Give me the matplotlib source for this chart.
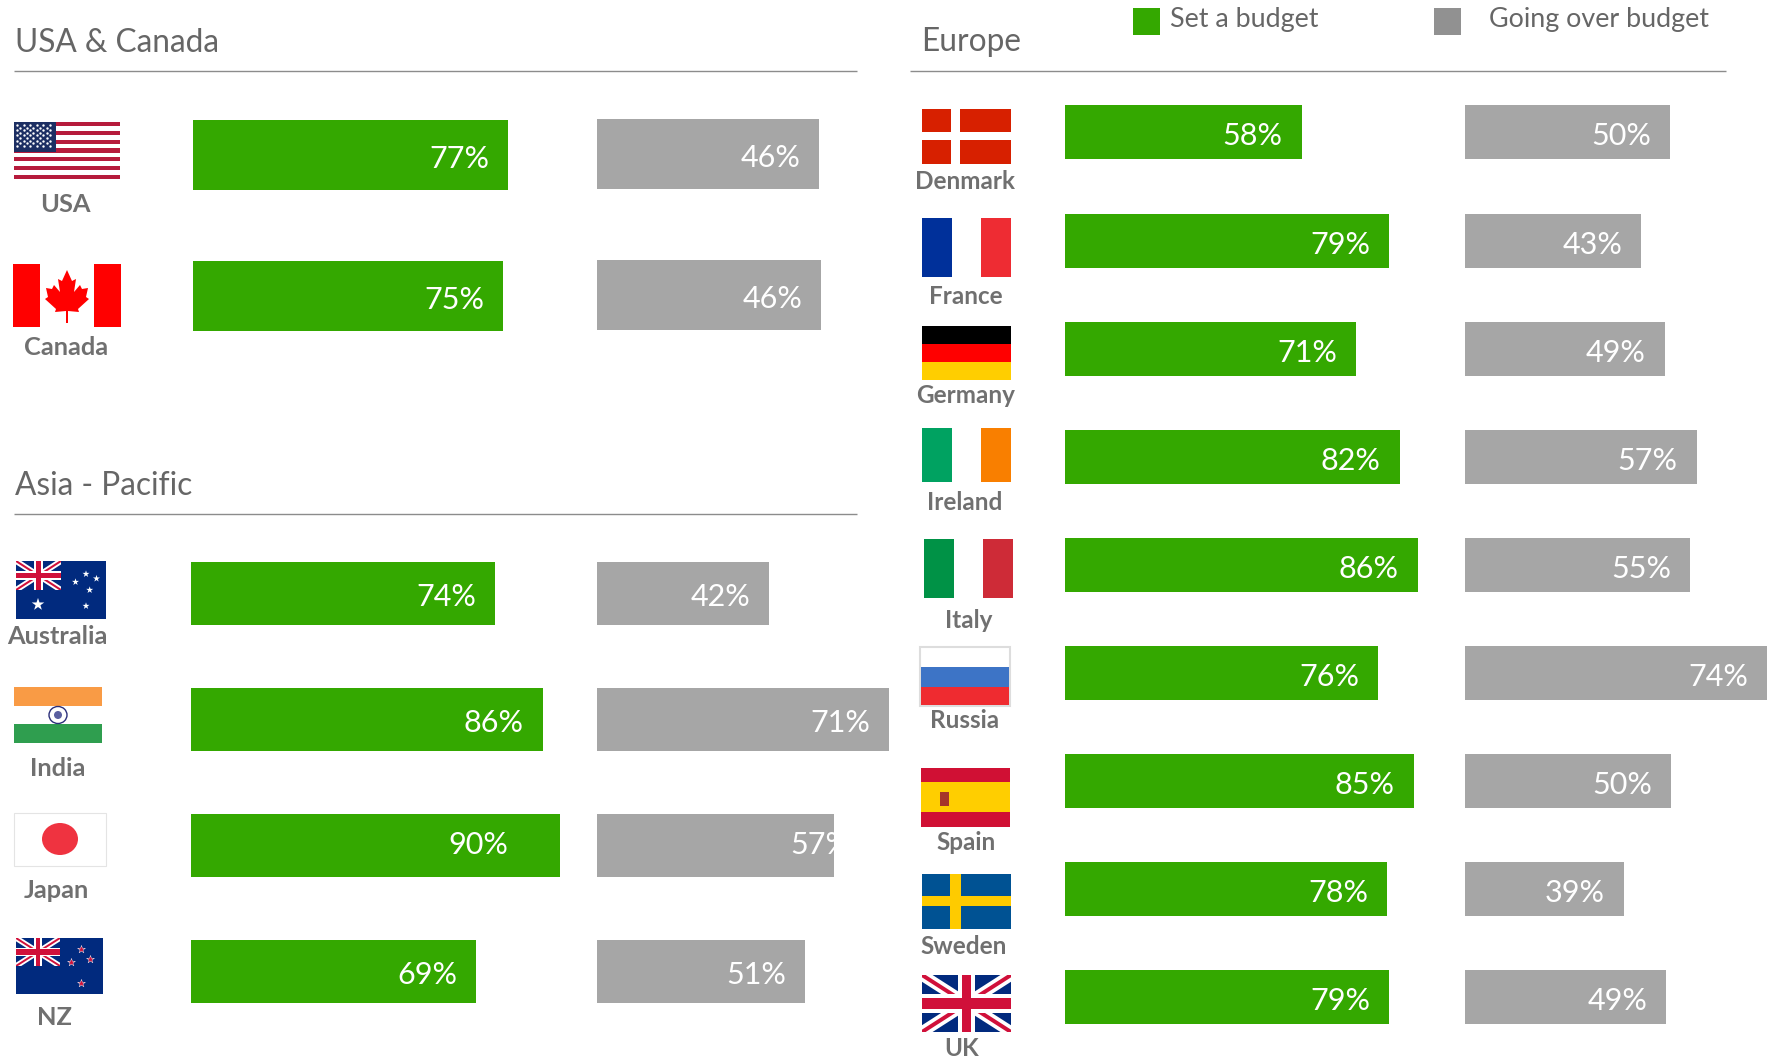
# budget survey bars by region, flags drawn by hand
import matplotlib
matplotlib.use('Agg')
import matplotlib.pyplot as plt
from matplotlib.patches import Rectangle, Ellipse, Polygon
import numpy as np

W, H = 1772, 1056
PX_PER_PCT = 4.09
GREEN = '#34A800'
GRAY = '#A6A6A6'
TEXT = '#666666'

plt.rcParams['font.family'] = ['Lato', 'DejaVu Sans']

# names, drawn bar lengths (percent) and the printed labels
na_names = ['USA', 'Canada']
na_budget = [77.0, 75.8]
na_over = [54.3, 54.8]
na_budget_labels = ['77%', '75%']
na_over_labels = ['46%', '46%']

ap_names = ['Australia', 'India', 'Japan', 'NZ']
ap_budget = [74.4, 86.0, 90.2, 69.7]
ap_over = [42.1, 71.4, 57.9, 50.9]
ap_budget_labels = ['74%', '86%', '90%', '69%']
ap_over_labels = ['42%', '71%', '57%', '51%']

eu_names = ['Denmark', 'France', 'Germany', 'Ireland', 'Italy', 'Russia', 'Spain', 'Sweden', 'UK']
eu_budget = [57.9, 79.2, 71.1, 81.8, 86.3, 76.5, 85.3, 78.7, 79.3]
eu_over = [50.2, 43.2, 49.0, 56.8, 55.1, 74.0, 50.5, 39.0, 49.3]
eu_budget_labels = ['58%', '79%', '71%', '82%', '86%', '76%', '85%', '78%', '79%']
eu_over_labels = ['50%', '43%', '49%', '57%', '55%', '74%', '50%', '39%', '49%']

fig = plt.figure(figsize=(W / 100, H / 100), dpi=100)
fig.patch.set_facecolor('white')

# overlay in pixel coordinates for headers, flags and names
page = fig.add_axes([0, 0, 1, 1], zorder=1)
page.set_xlim(0, W)
page.set_ylim(H, 0)
page.axis('off')


def bar_column(left, first_center, step, bar_h, values, labels, color, names=None, nudge=None):
    n = len(values)
    xmax = 100
    top = first_center - step / 2
    ax = fig.add_axes([left / W, 1 - (top + step * n) / H, xmax * PX_PER_PCT / W, step * n / H], zorder=2)
    ax.set_xlim(0, xmax)
    ax.set_ylim(n - 0.5, -0.5)
    ax.axis('off')
    ax.patch.set_alpha(0)
    bars = ax.barh(np.arange(n), values, height=bar_h / step, color=color, linewidth=0)
    for i in range(n):
        dx, dy = -19, 1.5
        # Japan's labels sit off the usual spot, the grey one is cut by its bar
        if nudge and names[i] in nudge:
            dx, dy = nudge[names[i]]
        t = ax.text(values[i] + dx / PX_PER_PCT, i + dy / step, labels[i], color='white', fontsize=22,
                    fontweight='normal', ha='right', va='center_baseline')
        t.set_clip_path(bars[i])
    return ax


bar_column(193, 155, 141, 70, na_budget, na_budget_labels, GREEN)
bar_column(597, 154, 141, 70, na_over, na_over_labels, GRAY)
bar_column(191, 593.5, 126, 63, ap_budget, ap_budget_labels, GREEN, names=ap_names, nudge={'Japan': (-52, -3)})
bar_column(597, 593.5, 126, 63, ap_over, ap_over_labels, GRAY, names=ap_names, nudge={'Japan': (17, -3)})
bar_column(1065, 132.5, 108.07, 54, eu_budget, eu_budget_labels, GREEN)
bar_column(1464.5, 132.5, 108.07, 54, eu_over, eu_over_labels, GRAY)

# headers
for txt, x, y in [('USA & Canada', 15, 52), ('Asia - Pacific', 15, 495), ('Europe', 921, 51)]:
    page.text(x, y, txt, fontsize=22.8, color=TEXT, va='baseline', ha='left')
for x0, x1, y in [(14, 857.5, 71.2), (14, 857.5, 514), (910.5, 1726.5, 71.2)]:
    page.plot([x0, x1], [y, y], color='#8C8C8C', lw=1.0, solid_capstyle='butt')

# legend
page.add_patch(Rectangle((1133, 8), 27, 27, fc=GREEN, ec='none'))
page.add_patch(Rectangle((1434, 8), 27, 27, fc='#919191', ec='none'))
page.text(1170, 27.5, 'Set a budget', fontsize=19.4, color=TEXT, va='baseline')
page.text(1489.5, 27.5, 'Going over budget', fontsize=19.4, color=TEXT, va='baseline')

# country names
name_pos = {
    'USA': (65, 212), 'Canada': (66, 355), 'Australia': (57, 643.5), 'India': (57.5, 776),
    'Japan': (56, 898), 'NZ': (54, 1025), 'Denmark': (965, 189), 'France': (965.6, 304),
    'Germany': (965.6, 403), 'Ireland': (965, 510), 'Italy': (969, 628), 'Russia': (964.5, 728),
    'Spain': (966, 850), 'Sweden': (964, 954), 'UK': (962, 1056),
}
for name in na_names + ap_names:
    x, y = name_pos[name]
    page.text(x, y, name, fontsize=18.3, fontweight='bold', color='#707070', ha='center', va='baseline')
for name in eu_names:
    x, y = name_pos[name]
    page.text(x, y, name, fontsize=17.5, fontweight='bold', color='#707070', ha='center', va='baseline', clip_on=True)


def rect(x0, y0, x1, y1, color, **kw):
    page.add_patch(Rectangle((x0, y0), x1 - x0, y1 - y0, fc=color, ec=kw.pop('ec', 'none'), lw=kw.pop('lw', 0), **kw))


def union_jack(x0, y0, x1, y1, blue='#012169', red='#D0103A'):
    clip = Rectangle((x0, y0), x1 - x0, y1 - y0, transform=page.transData)
    rect(x0, y0, x1, y1, blue)
    w, h = x1 - x0, y1 - y0
    for (a, b), lw, col in [(((x0, y0), (x1, y1)), 0.2 * h, 'white'), (((x0, y1), (x1, y0)), 0.2 * h, 'white'),
                            (((x0, y0), (x1, y1)), 0.07 * h, red), (((x0, y1), (x1, y0)), 0.07 * h, red)]:
        line, = page.plot([a[0], b[0]], [a[1], b[1]], color=col, lw=lw * 0.72, solid_capstyle='butt', zorder=2)
        line.set_clip_path(clip)
    rect(x0 + 0.41 * w, y0, x0 + 0.59 * w, y1, 'white', zorder=3)
    rect(x0, y0 + 0.34 * h, x1, y0 + 0.66 * h, 'white', zorder=3)
    rect(x0 + 0.45 * w, y0, x0 + 0.55 * w, y1, red, zorder=3)
    rect(x0, y0 + 0.40 * h, x1, y0 + 0.60 * h, red, zorder=3)


def stars(points, color, size, edge='none'):
    xs = [p[0] for p in points]
    ys = [p[1] for p in points]
    page.scatter(xs, ys, marker='*', s=size, c=color, edgecolors=edge, linewidths=0.3, zorder=4)


# USA
rect(14, 122, 120, 179, 'white')
stripe = 57 / 13
for k in range(0, 13, 2):
    rect(14, 122 + k * stripe, 120, 122 + (k + 1) * stripe, '#B61B3C')
rect(14, 122, 56, 152, '#1D2F63')
xs, ys = np.meshgrid(np.arange(17, 55, 6.6), np.arange(125, 151, 5.2))
page.scatter(xs.ravel(), ys.ravel(), s=3, c='white', linewidths=0, zorder=3)
xs, ys = np.meshgrid(np.arange(20.3, 52, 6.6), np.arange(127.6, 148, 5.2))
page.scatter(xs.ravel(), ys.ravel(), s=3, c='white', linewidths=0, zorder=3)

# Canada
rect(13, 264, 40, 327, '#FF0000')
rect(94, 264, 121, 327, '#FF0000')
cx = 67
leaf = [(0, 270), (5, 281), (9, 279), (7, 292), (13, 285), (15, 289), (21, 288), (19, 297), (22, 299),
        (11, 309), (12, 312), (1, 311), (1, 323), (-1, 323), (-1, 311), (-12, 312), (-11, 309), (-22, 299),
        (-19, 297), (-21, 288), (-15, 289), (-13, 285), (-7, 292), (-9, 279), (-5, 281)]
page.add_patch(Polygon([(cx + a, b) for a, b in leaf], fc='#FF0000', ec='none'))

# Australia
rect(16, 561, 106, 619, '#012A7E')
union_jack(16, 561, 61, 590, blue='#012A7E')
stars([(86, 574), (96.5, 578.6), (75.5, 582), (89.7, 590), (86, 606)], 'white', 28)
stars([(38, 604.5)], 'white', 90)

# India
rect(14, 687, 102, 743, 'white')
rect(14, 687, 102, 706, '#F99B45')
rect(14, 724, 102, 743, '#2F9E4F')
page.add_patch(Ellipse((58, 715), 18, 17, fc='white', ec='#2B2F7A', lw=1.0))
page.add_patch(Ellipse((58, 715), 8, 8, fc='#5A5FA0', ec='none'))

# Japan
rect(14.5, 812.5, 106.5, 866, 'white', ec='#E4E4E4', lw=0.8)
page.add_patch(Ellipse((60, 839), 36, 32, fc='#EF3340', ec='none'))

# NZ
rect(16, 938, 103, 994, '#012A7E')
union_jack(16, 938, 60, 966, blue='#012A7E')
stars([(80.6, 949), (89.7, 959), (71, 962), (80.6, 983)], '#D0103A', 35, edge='white')

# Denmark
rect(922, 109, 1011, 164, '#D72000')
rect(951, 109, 960, 164, 'white')
rect(922, 132.4, 1011, 140.3, 'white')

# France
rect(922, 218, 952, 277, '#00309A')
rect(981, 218, 1011, 277, '#EE2C33')

# Germany
rect(922, 325.5, 1011, 343.5, '#000000')
rect(922, 343.5, 1011, 361.5, '#FF0000')
rect(922, 361.5, 1011, 380, '#FFCE00')

# Ireland
rect(922, 428, 952, 482, '#00A261')
rect(981, 428, 1011, 482, '#F97F00')

# Italy
rect(924, 539, 954, 598, '#009246')
rect(983, 539, 1013, 598, '#CE2B37')

# Russia
rect(920, 647, 1010, 706, 'white', ec='#DDDDDD', lw=1.5)
rect(921, 667, 1009, 687, '#3D74C6')
rect(921, 687, 1009, 705, '#EF2B30')

# Spain
rect(921, 768, 1010, 827, '#D01034')
rect(921, 782, 1010, 812, '#FFCE00')
rect(940, 792, 949, 806, '#A5352A')

# Sweden
rect(922, 873.5, 1011, 929, '#005293')
rect(950, 873.5, 961, 929, '#FECB00')
rect(922, 896, 1011, 906.3, '#FECB00')

# UK
union_jack(922, 975, 1011, 1032, blue='#012A7E')

fig.savefig('out.png', dpi=100)
